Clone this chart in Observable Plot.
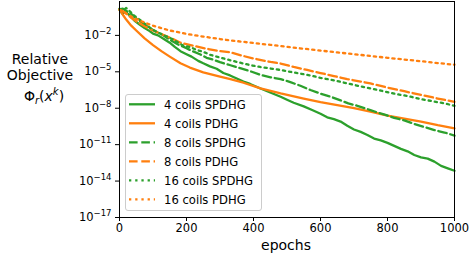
<!DOCTYPE html>
<html><head><meta charset="utf-8">
<script src="https://cdn.jsdelivr.net/npm/d3@7"></script>
<script src="https://cdn.jsdelivr.net/npm/@observablehq/plot@0.6"></script>
<style>
body{margin:0;background:#fff}
svg{font-family:"DejaVu Sans";}
</style>
</head><body><div id="chart"></div>
<script>
// [epoch, log10(relative objective)]
const coils4_SPDHG = [[0,0.1],[8,-0.2],[18,-0.05],[30,-0.35],[45,-0.8],[60,-1.1],[75,-1.4],[90,-1.65],[100,-1.85],[115,-2.0],[130,-2.25],[150,-2.6],[165,-2.95],[182,-3.3],[200,-3.55],[215,-3.75],[235,-4.1],[250,-4.3],[270,-4.55],[290,-4.75],[310,-5.1],[330,-5.3],[350,-5.55],[370,-5.8],[390,-6.0],[421,-6.37],[450,-6.7],[481,-7.06],[500,-7.3],[520,-7.55],[550,-7.85],[575,-8.15],[600,-8.45],[620,-8.75],[640,-8.9],[660,-9.1],[680,-9.45],[700,-9.75],[720,-9.95],[740,-10.2],[760,-10.5],[780,-10.65],[800,-10.85],[820,-11.1],[840,-11.35],[860,-11.55],[880,-11.85],[900,-12.05],[920,-12.15],[940,-12.4],[960,-12.75],[980,-12.95],[1000,-13.15]];
const coils4_PDHG = [[0,0.15],[10,-0.3],[20,-0.7],[35,-1.2],[50,-1.6],[75,-2.25],[100,-2.8],[125,-3.3],[150,-3.75],[182,-4.3],[210,-4.65],[250,-5.05],[300,-5.4],[331,-5.6],[370,-5.9],[421,-6.37],[481,-6.78],[550,-7.2],[600,-7.5],[650,-7.75],[700,-8.0],[749,-8.29],[800,-8.6],[850,-8.85],[900,-9.1],[950,-9.4],[1000,-9.65]];
const coils8_SPDHG = [[0,0.15],[10,0.2],[20,0.0],[30,-0.1],[45,-0.5],[60,-0.8],[80,-1.2],[100,-1.55],[125,-1.9],[150,-2.35],[175,-2.75],[200,-3.05],[212,-3.23],[240,-3.55],[260,-3.85],[280,-4.0],[300,-4.2],[331,-4.46],[360,-4.7],[390,-4.95],[420,-5.25],[451,-5.45],[481,-5.6],[510,-5.85],[540,-6.15],[570,-6.5],[600,-6.8],[630,-7.05],[660,-7.35],[683,-7.6],[710,-7.8],[749,-8.15],[770,-8.35],[794,-8.55],[820,-8.8],[850,-9.0],[880,-9.3],[910,-9.55],[940,-9.8],[970,-10.0],[1000,-10.25]];
const coils8_PDHG = [[0,0.15],[10,0.0],[20,-0.2],[35,-0.55],[50,-0.85],[75,-1.25],[100,-1.6],[130,-1.95],[160,-2.3],[182,-2.6],[220,-2.85],[260,-3.1],[300,-3.3],[331,-3.4],[370,-3.7],[400,-3.9],[451,-4.19],[481,-4.32],[520,-4.6],[560,-4.85],[600,-5.1],[640,-5.35],[680,-5.6],[720,-5.8],[749,-5.96],[800,-6.3],[850,-6.6],[900,-6.9],[950,-7.2],[1000,-7.47]];
const coils16_SPDHG = [[0,0.2],[10,0.05],[20,0.25],[30,0.0],[45,-0.4],[60,-0.7],[80,-1.15],[100,-1.55],[125,-1.9],[150,-2.2],[170,-2.5],[188,-2.82],[210,-2.95],[230,-3.2],[250,-3.35],[270,-3.6],[290,-3.75],[310,-3.9],[331,-4.05],[360,-4.25],[390,-4.45],[420,-4.6],[451,-4.73],[481,-4.85],[510,-5.0],[540,-5.15],[570,-5.3],[600,-5.5],[640,-5.7],[680,-5.95],[720,-6.2],[749,-6.37],[780,-6.55],[820,-6.8],[860,-7.0],[900,-7.25],[940,-7.45],[970,-7.6],[1000,-7.8]];
const coils16_PDHG = [[0,0.1],[10,0.0],[25,-0.3],[50,-0.65],[75,-0.95],[100,-1.2],[150,-1.6],[200,-1.88],[250,-2.1],[300,-2.3],[331,-2.41],[400,-2.63],[450,-2.78],[500,-2.94],[550,-3.1],[600,-3.25],[650,-3.4],[700,-3.55],[750,-3.7],[800,-3.85],[850,-3.99],[900,-4.13],[950,-4.28],[1000,-4.42]];

const seriesNames = ["4 coils SPDHG","4 coils PDHG","8 coils SPDHG","8 coils PDHG","16 coils SPDHG","16 coils PDHG"];
const seriesData = [coils4_SPDHG, coils4_PDHG, coils8_SPDHG, coils8_PDHG, coils16_SPDHG, coils16_PDHG];
const seriesColors = ["#2ca02c","#ff7f0e","#2ca02c","#ff7f0e","#2ca02c","#ff7f0e"];
const seriesDash = [null, null, "8.6,3.7", "8.6,3.7", "2.3,3.9", "2.3,3.9"];
const xTicks = [0,200,400,600,800,1000];
const yTickExps = [-17,-14,-11,-8,-5,-2];

const marks = [];
seriesData.forEach((d, i) => {
  marks.push(Plot.line(d.map(([e, v]) => ({e, y: Math.pow(10, v)})), {
    x: "e", y: "y", stroke: seriesColors[i], strokeWidth: 2.3,
    strokeDasharray: seriesDash[i] || undefined, strokeLinejoin: "round"
  }));
});
marks.push(Plot.frame({stroke: "black", strokeWidth: 1}));
marks.push(Plot.axisX({ticks: xTicks, tickSize: 4, tickPadding: 2, fontSize: 11.5, label: null, tickFormat: d => String(d)}));
marks.push(Plot.axisY({ticks: yTickExps.map(e => Math.pow(10, e)), tickSize: 4, tickPadding: 4, fontSize: 11.5, label: null,
  tickFormat: v => "E" + Math.round(Math.log10(v))}));

const svgEl = Plot.plot({
  width: 469, height: 256,
  marginLeft: 119, marginRight: 15, marginTop: 1, marginBottom: 39,
  style: {fontFamily: "DejaVu Sans", fontSize: "11.5px", color: "black", background: "white"},
  x: {domain: [0, 1000]},
  y: {type: "log", domain: [1e-17, Math.pow(10, 0.79)]},
  marks
});
document.getElementById("chart").appendChild(svgEl);

const svg = d3.select(svgEl);
// y tick labels as 10 with a superscript exponent
svg.selectAll('g[aria-label="y-axis tick label"] text').each(function() {
  const t = d3.select(this);
  const s = t.text();
  if (!s.startsWith("E")) return;
  const exp = s.slice(1).replace("-", "\u2212");
  t.text(null);
  t.append("tspan").text("10");
  t.append("tspan").attr("font-size", 8.5).attr("dy", -5).text(exp);
});

// axis labels
svg.append("text").attr("x", 286).attr("y", 250).attr("text-anchor", "middle")
  .attr("font-size", 14).attr("fill", "black").text("epochs");
const yl = svg.append("g").attr("font-size", 14).attr("fill", "black").attr("text-anchor", "middle");
yl.append("text").attr("x", 40).attr("y", 64).text("Relative");
yl.append("text").attr("x", 40).attr("y", 80).text("Objective");
const phi = yl.append("text").attr("x", 44).attr("y", 101);
phi.append("tspan").text("\u03A6");
phi.append("tspan").attr("font-style", "italic").attr("font-size", 10).attr("dy", 3).text("r");
phi.append("tspan").attr("dy", -3).text("(");
phi.append("tspan").attr("font-style", "italic").text("x");
phi.append("tspan").attr("font-style", "italic").attr("font-size", 10).attr("dy", -6).text("k");
phi.append("tspan").attr("dy", 6).text(")");

// legend
const lg = svg.append("g").attr("text-anchor", "start");
lg.append("rect").attr("x", 125.5).attr("y", 94.5).attr("width", 136).attr("height", 116)
  .attr("rx", 2.5).attr("fill", "white").attr("fill-opacity", 0.8).attr("stroke", "#cccccc");
seriesNames.forEach((n, i) => {
  const y = 104.3 + i * 19;
  lg.append("line").attr("x1", 129).attr("x2", 155).attr("y1", y).attr("y2", y)
    .attr("stroke", seriesColors[i]).attr("stroke-width", 2.3)
    .attr("stroke-dasharray", seriesDash[i]);
  lg.append("text").attr("x", 164).attr("y", y + 4.2).attr("text-anchor", "start")
    .attr("font-size", 11.6).attr("fill", "black").text(n);
});
</script>
</body></html>
